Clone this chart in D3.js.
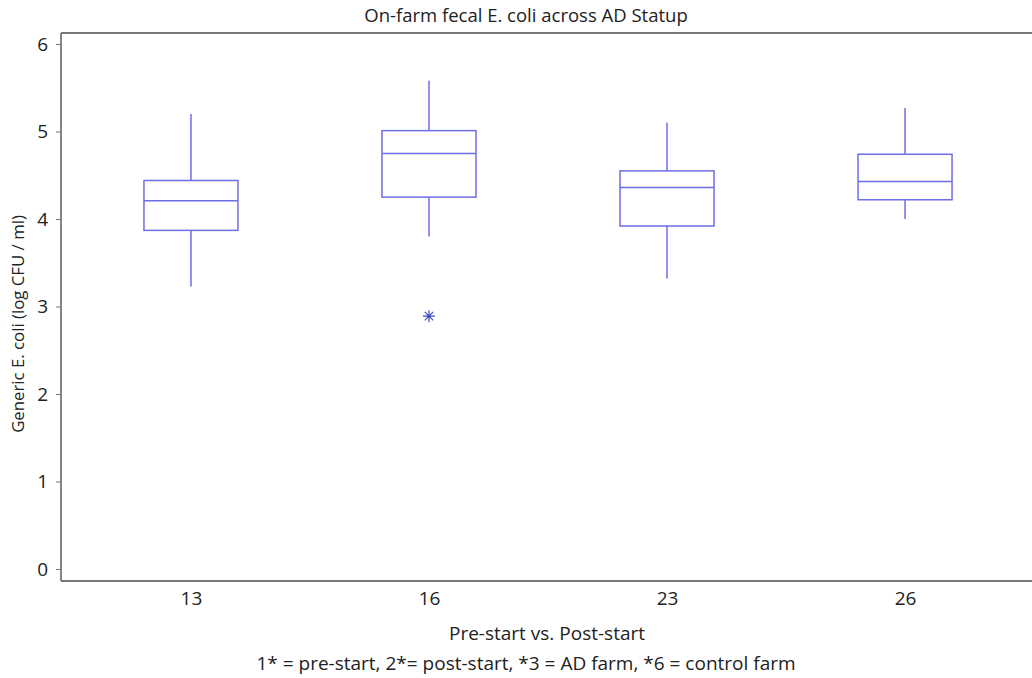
<!DOCTYPE html>
<html><head><meta charset="utf-8">
<script src="https://cdn.jsdelivr.net/npm/d3@7"></script>
<style>body{margin:0;background:#fff;} text{font-family:"Open Sans",sans-serif;fill:#222;}</style>
</head><body>
<svg id="c" width="1032" height="678"></svg>
<script>
const categories = ["13","16","23","26"];
const whiskerLow  = [3.23, 3.80, 3.32, 4.00];
const q1          = [3.87, 4.25, 3.92, 4.22];
const median      = [4.21, 4.75, 4.36, 4.43];
const q3          = [4.44, 5.01, 4.55, 4.74];
const whiskerHigh = [5.20, 5.58, 5.10, 5.27];
const outliers    = [{cat:"16", value:2.89}];
const yTicks = [0,1,2,3,4,5,6];

(function(){
const svg = d3.select("#c");
const pL = 61, pT = 33, pB = 581, pR = 1035;
const x = d3.scalePoint().domain(categories).range([pL, pR]).padding(0.546);
const y = d3.scaleLinear().domain([0, 6]).range([569, 44]);
const boxW = 94;
const col = "#6e6ee6";
const axisCol = "#777";

svg.append("line").attr("x1",pL).attr("x2",1032).attr("y1",pT).attr("y2",pT).attr("stroke",axisCol).attr("stroke-width",1.8);
svg.append("line").attr("x1",pL).attr("x2",1032).attr("y1",pB).attr("y2",pB).attr("stroke",axisCol).attr("stroke-width",1.8);

const yAxis = svg.append("g").attr("transform",`translate(${pL},0)`)
  .call(d3.axisLeft(y).tickValues(yTicks).tickSize(5).tickPadding(8).tickFormat(d3.format("d")));
yAxis.select(".domain").attr("d",`M0,${pT}V${pB}`).attr("stroke",axisCol).attr("stroke-width",1.8);
yAxis.selectAll(".tick line").attr("stroke",axisCol);
yAxis.selectAll(".tick text").style("font-size","19px").attr("fill","#222");

const xAxis = svg.append("g").attr("transform",`translate(0,${pB})`)
  .call(d3.axisBottom(x).tickSize(0).tickPadding(11));
xAxis.select(".domain").remove();
xAxis.selectAll(".tick text").style("font-size","19px").attr("fill","#222");

const data = categories.map((c,i)=>({c, lo:whiskerLow[i], q1:q1[i], med:median[i], q3:q3[i], hi:whiskerHigh[i]}));
const g = svg.append("g");
data.forEach(d=>{
  const cx = x(d.c);
  g.append("line").attr("x1",cx).attr("x2",cx).attr("y1",y(d.hi)).attr("y2",y(d.q3)).attr("stroke",col).attr("stroke-width",1.5);
  g.append("line").attr("x1",cx).attr("x2",cx).attr("y1",y(d.q1)).attr("y2",y(d.lo)).attr("stroke",col).attr("stroke-width",1.5);
  g.append("rect").attr("x",cx-boxW/2).attr("y",y(d.q3)).attr("width",boxW).attr("height",y(d.q1)-y(d.q3))
    .attr("fill","none").attr("stroke",col).attr("stroke-width",1.5);
  g.append("line").attr("x1",cx-boxW/2).attr("x2",cx+boxW/2).attr("y1",y(d.med)).attr("y2",y(d.med)).attr("stroke",col).attr("stroke-width",1.5);
});
const r = 6, rd = 4.2;
outliers.forEach(o=>{
  svg.append("path").attr("d", `M${-r},0H${r}M0,${-r}V${r}M${-rd},${-rd}L${rd},${rd}M${-rd},${rd}L${rd},${-rd}`)
    .attr("transform",`translate(${x(o.cat)},${y(o.value)})`).attr("stroke","#3c4cb8").attr("stroke-width",1.2).attr("fill","none");
});

svg.append("text").attr("x",526).attr("y",22).attr("text-anchor","middle").style("font-size","18.5px").text("On-farm fecal E. coli across AD Statup");
svg.append("text").attr("x",547).attr("y",640).attr("text-anchor","middle").style("font-size","19px").text("Pre-start vs. Post-start");
svg.append("text").attr("x",526).attr("y",670).attr("text-anchor","middle").style("font-size","19px").text("1* = pre-start, 2*= post-start, *3 = AD farm, *6 = control farm");
svg.append("text").attr("transform","translate(24,324) rotate(-90)").attr("text-anchor","middle").style("font-size","16.8px").text("Generic E. coli (log CFU / ml)");
})();
</script>
</body></html>
